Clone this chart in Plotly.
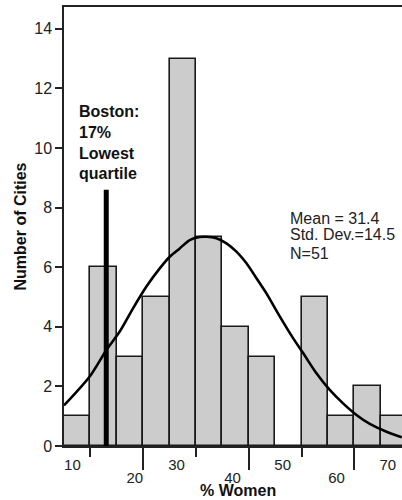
import plotly.graph_objects as go

# ---- data ----
bin_left = [10, 15, 20, 25, 30, 35, 40, 45, 50, 55, 60, 65, 70]
bin_width = 5
city_counts = [1, 6, 3, 5, 13, 7, 4, 3, 0, 5, 1, 2, 1]

curve_x = [10.0, 14.87, 18.03, 20.55, 23.07, 25.61, 28.13, 30.02, 31.91, 33.81, 35.70,
           36.97, 38.86, 40.76, 42.65, 44.55, 46.44, 48.33, 50.85, 53.37, 55.27,
           57.80, 60.32, 62.84, 65.38, 67.90, 71.06, 73.96]
curve_y = [1.36, 2.33, 3.22, 3.84, 4.62, 5.35, 5.96, 6.35, 6.63, 6.91, 7.01,
           7.02, 6.97, 6.80, 6.52, 6.13, 5.63, 5.12, 4.35, 3.62, 3.12,
           2.44, 1.88, 1.43, 1.04, 0.74, 0.48, 0.29]

boston_x = [18, 18]
boston_y = [0, 8.6]

x_tick_labels = ["10", "20", "30", "40", "50", "60", "70"]
x_tick_label_pos = [11.6, 23.4, 31.3, 41.9, 51.4, 61.6, 71.3]
x_long_ticks = [25, 45, 65]
x_short_ticks = [15, 35, 55]
y_ticks = [0, 2, 4, 6, 8, 10, 12, 14]

stats_lines = ["Mean = 31.4", "Std. Dev.=14.5", "N=51"]
boston_text = "Boston:<br>17%<br>Lowest<br>quartile"

X_RANGE = [10, 74]
Y_RANGE = [0, 14.73]
FONT = "Liberation Sans, Arial, sans-serif"
AX = "#222222"

bin_center = [b + bin_width / 2 for b in bin_left]

fig = go.Figure()
fig.add_trace(go.Bar(
    x=bin_center, y=city_counts, width=[bin_width] * len(bin_left),
    marker=dict(color="#cccccc", line=dict(color="#1a1a1a", width=1.6)),
    showlegend=False, hoverinfo="skip"))
fig.add_trace(go.Scatter(
    x=boston_x, y=boston_y, mode="lines", xaxis="x2",
    line=dict(color="black", width=5), showlegend=False, hoverinfo="skip"))
fig.add_trace(go.Scatter(
    x=curve_x, y=curve_y, mode="lines", xaxis="x3",
    line=dict(color="black", width=2.6, shape="spline", smoothing=0.8),
    showlegend=False, hoverinfo="skip"))

upper_idx = [0, 2, 4, 6]
lower_idx = [1, 3, 5]

fig.update_layout(
    width=402, height=500,
    margin=dict(l=64, r=0, t=7, b=54, autoexpand=False),
    paper_bgcolor="white", plot_bgcolor="white",
    font=dict(family=FONT, color="#222222", size=15),
    bargap=0,
    xaxis=dict(
        range=X_RANGE, showgrid=False, zeroline=False,
        showline=True, linecolor=AX, linewidth=1.5, mirror=True,
        tickmode="array", tickvals=x_long_ticks, ticks="outside",
        ticklen=22, tickwidth=1.5, tickcolor=AX, showticklabels=False,
        minor=dict(tickmode="array", tickvals=x_short_ticks, ticks="outside",
                   ticklen=9, tickwidth=1.5, tickcolor=AX, showgrid=False),
    ),
    xaxis2=dict(
        range=X_RANGE, overlaying="x", anchor="y", side="bottom",
        showgrid=False, zeroline=False, showline=False,
        tickmode="array",
        tickvals=[x_tick_label_pos[i] for i in upper_idx],
        ticktext=[x_tick_labels[i] for i in upper_idx],
        ticks="outside", ticklen=5, tickcolor="rgba(0,0,0,0)",
        tickfont=dict(size=15, family=FONT, color="#222222"),
    ),
    xaxis3=dict(
        range=X_RANGE, overlaying="x", anchor="y", side="bottom",
        showgrid=False, zeroline=False, showline=False,
        tickmode="array",
        tickvals=[x_tick_label_pos[i] for i in lower_idx],
        ticktext=[x_tick_labels[i] for i in lower_idx],
        ticks="outside", ticklen=18, tickcolor="rgba(0,0,0,0)",
        tickfont=dict(size=15, family=FONT, color="#222222"),
    ),
    yaxis=dict(
        range=Y_RANGE, showgrid=False, zeroline=False,
        showline=True, linecolor=AX, linewidth=1.5,
        tickmode="array", tickvals=y_ticks, ticks="outside",
        ticklen=7, tickwidth=1.5, tickcolor=AX,
        tickfont=dict(size=16, family=FONT, color="#222222"),
        title=dict(text="<b>Number of Cities</b>", standoff=4,
                   font=dict(size=16, family=FONT, color="#111111")),
    ),
)

# statistics text block
for txt, yv in zip(stats_lines, [7.65, 7.08, 6.46]):
    fig.add_annotation(x=52.5, y=yv, xref="x", yref="y", text=txt,
                       showarrow=False, xanchor="left", yanchor="middle",
                       font=dict(size=16, family=FONT, color="#222222"))

fig.add_annotation(x=12.4, y=10.2, xref="x", yref="y", text="<b>" + boston_text + "</b>",
                   showarrow=False, xanchor="left", yanchor="middle", align="left",
                   font=dict(size=16, family=FONT, color="#111111"))

fig.add_annotation(x=43.0, y=-0.1225, xref="x", yref="paper", text="<b>% Women</b>",
                   showarrow=False, xanchor="center", yanchor="bottom", borderpad=0,
                   font=dict(size=16, family=FONT, color="#111111"))

fig.write_html("out.html", config={"displayModeBar": False},
               post_script="document.body.style.margin='0';")
